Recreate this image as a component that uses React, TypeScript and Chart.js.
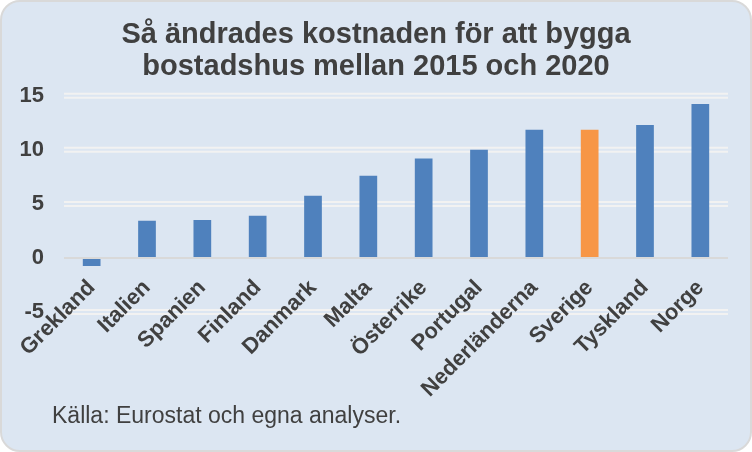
import React, { useEffect, useRef } from "react";
import { Chart, registerables } from "chart.js";

Chart.register(...registerables);

const categories = [
  "Grekland",
  "Italien",
  "Spanien",
  "Finland",
  "Danmark",
  "Malta",
  "Österrike",
  "Portugal",
  "Nederländerna",
  "Sverige",
  "Tyskland",
  "Norge",
];
const values = [-0.75, 3.45, 3.5, 3.9, 5.75, 7.6, 9.2, 10.0, 11.85, 11.85, 12.3, 14.25];
const highlighted = "Sverige";
const titleLines = ["Så ändrades kostnaden för att bygga", "bostadshus mellan 2015 och 2020"];
const sourceText = "Källa: Eurostat och egna analyser.";
const yMin = -5;
const yMax = 15;
const yStep = 5;

const FONT = "'Liberation Sans', Arial, Helvetica, sans-serif";
const TEXT = "#404040";
const BLUE = "#4f81bd";
const ORANGE = "#f79646";

const gridPlugin = {
  id: "doubleGrid",
  beforeDraw(chart: any) {
    const { ctx, chartArea, scales } = chart;
    const y = scales.y;
    if (!y) return;
    ctx.save();
    ctx.strokeStyle = "#f2f2f2";
    ctx.lineWidth = 2;
    y.ticks.forEach((t: any) => {
      if (t.value === 0) return;
      const py = y.getPixelForValue(t.value);
      [-2, 2].forEach((o) => {
        ctx.beginPath();
        ctx.moveTo(chartArea.left, py + o);
        ctx.lineTo(chartArea.right, py + o);
        ctx.stroke();
      });
    });
    ctx.restore();
  },
  afterDatasetsDraw(chart: any) {
    const { ctx, chartArea, scales } = chart;
    const py = scales.y.getPixelForValue(0);
    ctx.save();
    ctx.strokeStyle = "#d9d9d9";
    ctx.lineWidth = 2;
    ctx.beginPath();
    ctx.moveTo(chartArea.left, py);
    ctx.lineTo(chartArea.right, py);
    ctx.stroke();
    ctx.restore();
  },
};

const sourcePlugin = {
  id: "sourceText",
  afterDraw(chart: any) {
    const { ctx } = chart;
    ctx.save();
    ctx.fillStyle = TEXT;
    ctx.font = `23px ${FONT}`;
    ctx.textAlign = "left";
    ctx.textBaseline = "alphabetic";
    ctx.fillText(sourceText, 50, 421);
    ctx.restore();
  },
};

export default function App() {
  const canvasRef = useRef<HTMLCanvasElement | null>(null);

  useEffect(() => {
    document.body.style.margin = "0";
    const canvas = canvasRef.current;
    if (!canvas) return;
    const chart = new Chart(canvas, {
      type: "bar",
      data: {
        labels: categories,
        datasets: [
          {
            data: values,
            backgroundColor: categories.map((c) => (c === highlighted ? ORANGE : BLUE)),
            barPercentage: 0.32,
            categoryPercentage: 1,
          },
        ],
      },
      options: {
        animation: false,
        responsive: false,
        maintainAspectRatio: false,
        layout: { padding: { left: 0, right: 0, top: 0, bottom: 138 } },
        plugins: {
          legend: { display: false },
          tooltip: { enabled: false },
          title: {
            display: true,
            text: titleLines,
            color: TEXT,
            font: { family: FONT, size: 29, weight: "bold", lineHeight: 1.1 },
            padding: { top: 17, bottom: 13 },
          },
        },
        scales: {
          x: {
            position: { y: 0 } as any,
            grid: { display: false, drawTicks: false },
            border: { display: false },
            ticks: {
              autoSkip: false,
              minRotation: 45,
              maxRotation: 45,
              padding: 17,
              color: TEXT,
              font: { family: FONT, size: 22, weight: "bold" },
            },
            afterFit: (scale: any) => {
              scale.height = 0;
              scale.paddingRight = 22;
            },
          },
          y: {
            min: yMin,
            max: yMax,
            grid: { display: false, drawTicks: false },
            border: { display: false },
            ticks: {
              stepSize: yStep,
              padding: 20,
              color: TEXT,
              font: { family: FONT, size: 22, weight: "bold" },
            },
            afterFit: (scale: any) => {
              scale.width = 62;
            },
          },
        },
      },
      plugins: [gridPlugin, sourcePlugin],
    });
    return () => chart.destroy();
  }, []);

  return (
    <div
      style={{
        position: "absolute",
        left: 0,
        top: 0,
        width: 752,
        height: 452,
        boxSizing: "border-box",
        border: "2px solid #d9d9d9",
        borderRadius: 20,
        background: "#dce6f2",
        overflow: "hidden",
      }}
    >
      <canvas ref={canvasRef} width={748} height={448} style={{ display: "block", width: 748, height: 448 }} />
    </div>
  );
}
